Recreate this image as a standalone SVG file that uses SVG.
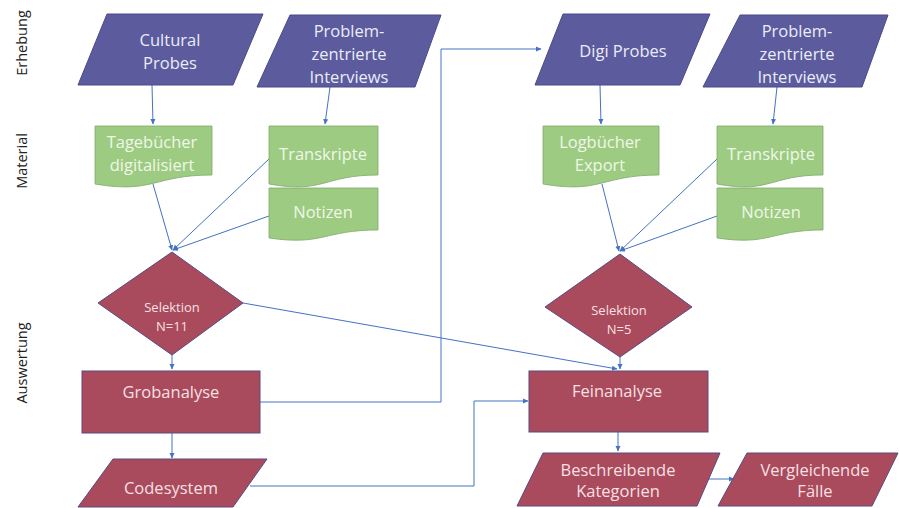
<svg xmlns="http://www.w3.org/2000/svg" width="899" height="508" viewBox="0 0 899 508">
<defs>
<marker id="ah" markerWidth="6" markerHeight="6" refX="5" refY="3" orient="auto" markerUnits="userSpaceOnUse">
<path d="M0,0.5 L5.5,3 L0,5.5 Z" fill="#4472C4"/>
</marker>
<style>
.bg{fill:#ffffff}
.pur{fill:#5B5B9E;stroke:#4A4A8A;stroke-width:1}
.grn{fill:#9ECB82;stroke:#7FA86A;stroke-width:0.8}
.red{fill:#A94A5D;stroke:#5A4A80;stroke-width:1}
.t{font-family:"Open Sans","Liberation Sans",sans-serif;font-size:16.5px;text-anchor:middle}
.tw{fill:#ECECF6}
.tg{fill:#EEF7E8}
.tr{fill:#F6E0E3}
.ts{font-size:13px}
.side{font-family:"Open Sans","Liberation Sans",sans-serif;font-size:14.5px;fill:#222;text-anchor:middle}
.c{fill:none;stroke:#4472C4;stroke-width:1;marker-end:url(#ah)}
</style>
</defs>
<rect class="bg" width="899" height="508"/>
<g id="labels">
<text class="side" transform="translate(27,43) rotate(-90)">Erhebung</text>
<text class="side" transform="translate(27,161) rotate(-90)">Material</text>
<text class="side" transform="translate(27,363) rotate(-90)">Auswertung</text>
</g>
<g id="connectors">
<path class="c" d="M152,85 L153,124"/>
<path class="c" d="M330,87 L325,124"/>
<path class="c" d="M153,184 L172,250"/>
<path class="c" d="M269,159 L173,250"/>
<path class="c" d="M269,216 L173,250"/>
<path class="c" d="M172,355 L172,369"/>
<path class="c" d="M260,402 H441 V49 H541"/>
<path class="c" d="M172,433 V458"/>
<path class="c" d="M243,303 L617,369"/>
<path class="c" d="M250,486 H474 V401 H528"/>
<path class="c" d="M600,85 L601,124"/>
<path class="c" d="M777,87 L773,124"/>
<path class="c" d="M602,184 L619,251"/>
<path class="c" d="M717,159 L620,251"/>
<path class="c" d="M717,216 L620,251"/>
<path class="c" d="M620,357 L620,369"/>
<path class="c" d="M618,432 V451"/>
<path class="c" d="M700,479 H734"/>
</g>
<g id="cultural-probes">
<polygon class="pur" points="107,14 263,14 233,85 78,85"/>
<text class="t tw" x="170" y="46">Cultural</text>
<text class="t tw" x="170" y="69">Probes</text>
</g>
<g id="interviews-1">
<polygon class="pur" points="290,15 441,15 415,87 257,87"/>
<text class="t tw" x="349" y="37">Problem-</text>
<text class="t tw" x="349" y="60">zentrierte</text>
<text class="t tw" x="349" y="83">Interviews</text>
</g>
<g id="digi-probes">
<polygon class="pur" points="563,14 710,14 680,85 535,85"/>
<text class="t tw" x="623" y="57">Digi Probes</text>
</g>
<g id="interviews-2">
<polygon class="pur" points="740,15 888,15 862,87 703,87"/>
<text class="t tw" x="797" y="37">Problem-</text>
<text class="t tw" x="797" y="60">zentrierte</text>
<text class="t tw" x="797" y="83">Interviews</text>
</g>
<g id="tagebuecher">
<path class="grn" d="M95,126 H212 V175 C153.5,175 153.5,194 95,184 Z"/>
<text class="t tg" x="152" y="148">Tagebücher</text>
<text class="t tg" x="152" y="171">digitalisiert</text>
</g>
<g id="transkripte-1">
<path class="grn" d="M269,126 H378 V175 C323.5,175 323.5,194 269,184 Z"/>
<text class="t tg" x="323" y="160">Transkripte</text>
</g>
<g id="notizen-1">
<path class="grn" d="M269,188 H378 V230 C323.5,230 323.5,246 269,238 Z"/>
<text class="t tg" x="323" y="218">Notizen</text>
</g>
<g id="logbuecher">
<path class="grn" d="M543,126 H659 V175 C601,175 601,194 543,184 Z"/>
<text class="t tg" x="600" y="148">Logbücher</text>
<text class="t tg" x="600" y="171">Export</text>
</g>
<g id="transkripte-2">
<path class="grn" d="M717,126 H823 V175 C770,175 770,194 717,184 Z"/>
<text class="t tg" x="771" y="160">Transkripte</text>
</g>
<g id="notizen-2">
<path class="grn" d="M717,188 H823 V230 C770,230 770,246 717,238 Z"/>
<text class="t tg" x="771" y="218">Notizen</text>
</g>
<g id="selektion-1">
<polygon class="red" points="172,252 243,303 172,355 98,303"/>
<text class="t tr ts" x="172" y="312">Selektion</text>
<text class="t tr ts" x="172" y="331">N=11</text>
</g>
<g id="selektion-2">
<polygon class="red" points="620,254 692,307 620,357 545,307"/>
<text class="t tr ts" x="619" y="315">Selektion</text>
<text class="t tr ts" x="619" y="334">N=5</text>
</g>
<g id="grobanalyse">
<rect class="red" x="82" y="371" width="178" height="62"/>
<text class="t tr" x="171" y="398">Grobanalyse</text>
</g>
<g id="feinanalyse">
<rect class="red" x="529" y="371" width="179" height="61"/>
<text class="t tr" x="617" y="397">Feinanalyse</text>
</g>
<g id="codesystem">
<polygon class="red" points="113,459 267,459 233,507 78,507"/>
<text class="t tr" x="171" y="494">Codesystem</text>
</g>
<g id="beschreibende">
<polygon class="red" points="543,453 720,453 697,506 517,506"/>
<text class="t tr" x="618" y="476">Beschreibende</text>
<text class="t tr" x="618" y="497">Kategorien</text>
</g>
<g id="vergleichende">
<polygon class="red" points="747,453 898,453 872,506 718,506"/>
<text class="t tr" x="815" y="476">Vergleichende</text>
<text class="t tr" x="815" y="497">Fälle</text>
</g>
</svg>
